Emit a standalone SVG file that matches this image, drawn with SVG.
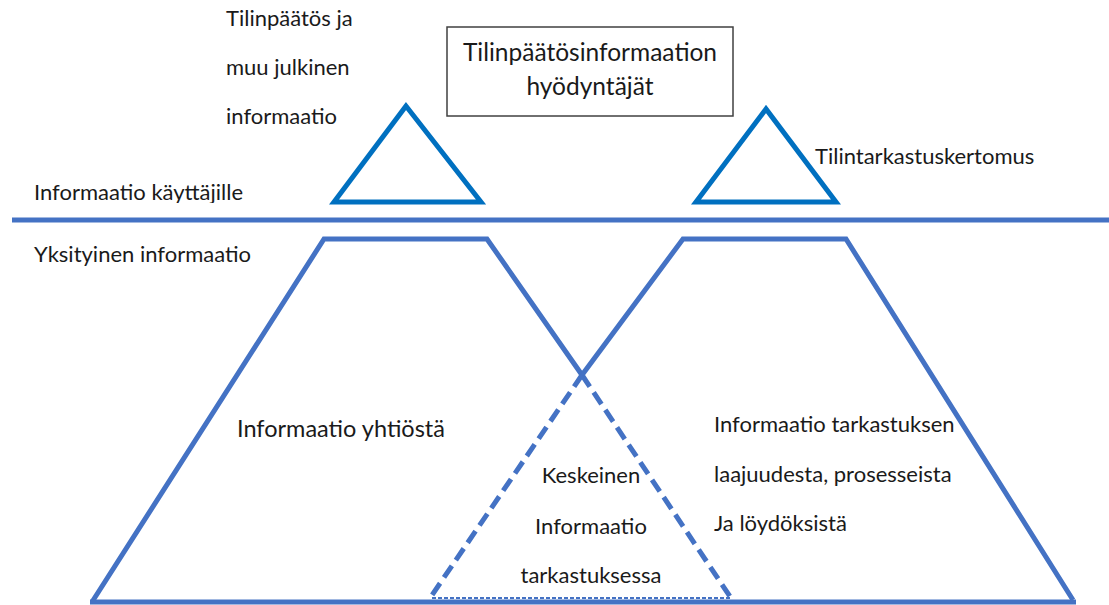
<svg xmlns="http://www.w3.org/2000/svg" width="1109" height="605" viewBox="0 0 1109 605">
<style>
.t{font-family:Lato,"Liberation Sans",sans-serif;font-size:22px;fill:#1a1a1a}
.c{text-anchor:middle}
.tri{fill:none;stroke:#0070C0;stroke-width:5;stroke-linejoin:miter}
.ln{fill:none;stroke:#4472C4;stroke-width:5}
.dash{fill:none;stroke:#4472C4;stroke-width:5;stroke-dasharray:14 7}
</style>
<defs>
<clipPath id="clipTop"><rect x="0" y="0" width="300" height="203"/></clipPath>
</defs>
<rect width="1109" height="605" fill="#fff"/>
<g id="connectors">
<line class="ln" x1="12" y1="220" x2="1109" y2="220"/>
</g>
<g id="public-info-triangle">
<polygon class="tri" points="406,106 334,202 481,202"/>
<text class="t" x="226" y="26">Tilinpäätös ja</text>
<text class="t" x="226" y="75">muu julkinen</text>
<text class="t" x="226" y="124">informaatio</text>
</g>
<g id="users-box">
<rect x="447" y="27" width="286" height="89" fill="#fff" stroke="#404040" stroke-width="1.5"/>
<text class="t c" x="590" y="61" style="font-size:24.5px">Tilinpäätösinformaation</text>
<text class="t c" x="590" y="95" style="font-size:24.5px">hyödyntäjät</text>
</g>
<g id="audit-report-triangle">
<polygon class="tri" points="766,109 696,202 836,202"/>
<text class="t" x="815" y="164">Tilintarkastuskertomus</text>
</g>
<g id="labels">
<text class="t" x="34" y="200" clip-path="url(#clipTop)">Informaatio käyttäjille</text>
<text class="t" x="34" y="262">Yksityinen informaatio</text>
</g>
<g id="company-info">
<polyline class="ln" points="582,375 487,239 324,239 92,602"/>
<line class="dash" x1="582" y1="375" x2="731" y2="598"/>
<text class="t" x="237" y="437" style="font-size:23.5px">Informaatio yhtiöstä</text>
</g>
<g id="audit-info">
<polyline class="ln" points="582,375 683,239 846,239 1073,600"/>
<line class="dash" x1="582" y1="375" x2="430" y2="598"/>
<text class="t" x="714" y="432">Informaatio tarkastuksen</text>
<text class="t" x="714" y="482">laajuudesta, prosesseista</text>
<text class="t" x="714" y="531">Ja löydöksistä</text>
</g>
<g id="key-info">
<line x1="432" y1="598" x2="730" y2="598" stroke="#4472C4" stroke-width="2" stroke-dasharray="4 2"/>
<text class="t c" x="591" y="483">Keskeinen</text>
<text class="t c" x="591" y="534">Informaatio</text>
<text class="t c" x="591" y="583">tarkastuksessa</text>
</g>
<g id="base">
<line class="ln" x1="90" y1="602" x2="1076" y2="602"/>
</g>
</svg>
